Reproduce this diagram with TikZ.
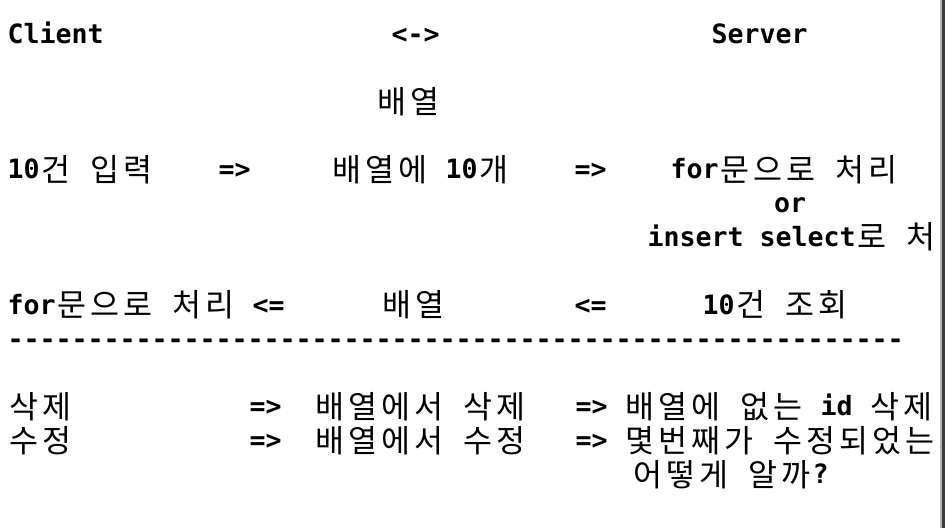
\documentclass[tikz,border=0pt]{standalone}
\usepackage{fontspec}
\newfontfamily\latf{DejaVu Sans Mono}
\newfontfamily\korf{Noto Sans CJK KR}
\def\K#1{\Kloop#1\relax}
\def\Kloop#1{\ifx#1\relax\else\makebox[33pt][c]{\raisebox{-2.5pt}{\korf\mdseries\fontsize{31.5pt}{31.5pt}\selectfont#1}}\expandafter\Kloop\fi}
\definecolor{barlight}{HTML}{B4B4B4}
\definecolor{bardark}{HTML}{3C3C3C}
\tikzset{
  txt/.style={anchor=base west, inner sep=0pt, outer sep=0pt,
    font=\latf\bfseries\fontsize{26.58pt}{30pt}\selectfont\frenchspacing}
}
\begin{document}
\begin{tikzpicture}[x=1pt,y=-1pt]
\useasboundingbox (0,0) rectangle (945,528);
\fill[white] (0,0) rectangle (945,528);
\begin{scope}
\clip (0,0) rectangle (940,528);
% row 0
\node[txt] (client) at (7.5,43) {Client};
\node[txt] (bidir) at (391.5,43) {<->};
\node[txt] (server) at (711.5,43) {Server};
% row 2
\node[txt] (arr) at (375.5,110.8) {\K{배열}};
% row 4
\node[txt] (in10) at (7.5,178.6) {10\K{건} \K{입력}};
\node[txt] (ar1) at (218.5,178.6) {=>};
\node[txt] (arr10) at (330.5,178.6) {\K{배열에} 10\K{개}};
\node[txt] (ar2) at (574.5,178.6) {=>};
\node[txt] (forproc) at (670.5,178.6) {for\K{문으로} \K{처리}};
% row 5
\node[txt] (or) at (774,212.5) {or};
% row 6
\node[txt] (inssel) at (647.5,246.4) {insert select\K{로} \K{처}};
% row 8
\node[txt] (forproc2) at (7.5,314.2) {for\K{문으로} \K{처리} <=};
\node[txt] (arr2) at (380.5,314.2) {\K{배열}};
\node[txt] (ar3) at (574.5,314.2) {<=};
\node[txt] (q10) at (702.5,314.2) {10\K{건} \K{조회}};
% row 9
\node[txt] (dashes) at (7.5,348.1) {\foreach \i in {1,...,56}{-}};
% row 11
\node[txt] (del) at (7.5,415.9) {\K{삭제}};
\node[txt] (ar4) at (249.5,415.9) {=>};
\node[txt] (arrdel) at (313.5,415.9) {\K{배열에서} \K{삭제}};
\node[txt] (srvdel) at (575.5,415.9) {=> \K{배열에} \K{없는} id \K{삭제}};
% row 12
\node[txt] (mod) at (7.5,449.8) {\K{수정}};
\node[txt] (ar5) at (249.5,449.8) {=>};
\node[txt] (arrmod) at (313.5,449.8) {\K{배열에서} \K{수정}};
\node[txt] (srvmod) at (575.5,449.8) {=> \K{몇번째가} \K{수정되었는지}};
% row 13
\node[txt] (how) at (631.5,483.7) {\K{어떻게} \K{알까}?};
\end{scope}
\fill[barlight] (940,0) rectangle (941.5,528);
\fill[bardark] (941.5,0) rectangle (945,528);
\end{tikzpicture}
\end{document}
